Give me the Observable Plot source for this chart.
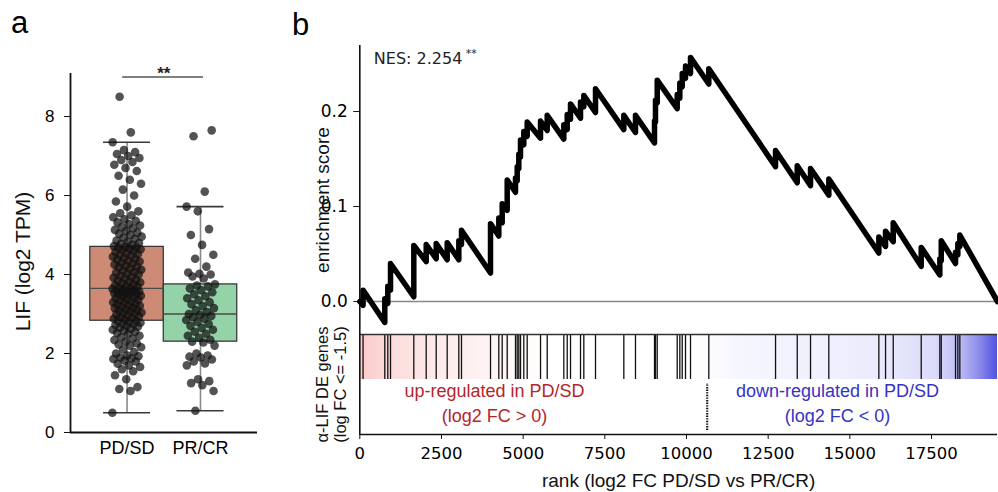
<!DOCTYPE html>
<html><head><meta charset="utf-8">
<script src="https://cdn.jsdelivr.net/npm/d3@7"></script>
<script src="https://cdn.jsdelivr.net/npm/@observablehq/plot@0.6"></script>
<style>
body{margin:0;background:#fff;}
#chart{position:relative;width:998px;height:492px;overflow:hidden;background:#fff;}
#chart > svg{position:absolute;left:0;top:0;}
</style></head><body><div id="chart"></div>
<script>
// ---------------- DATA ----------------
const categories = ["PD/SD", "PR/CR"];
const pdsdValues = [
 0.50,1.05,1.10,1.15,1.35,1.45,1.55,1.60,1.66,1.70,1.74,1.80,1.82,1.86,1.88,1.90,1.93,1.95,2.00,2.04,2.10,2.16,2.20,2.23,2.26,2.30,2.34,2.38,2.41,2.45,2.50,2.52,2.55,2.58,2.60,2.63,2.65,2.68,2.70,2.72,2.74,2.76,2.78,2.80,2.82,
 2.83,2.85,2.88,2.90,2.92,2.94,2.96,2.99,3.01,3.02,3.04,3.07,3.09,3.10,3.12,3.15,3.16,3.18,3.21,3.22,3.24,3.26,3.29,3.30,3.32,3.35,3.36,3.38,3.40,3.42,3.45,3.46,3.48,3.50,3.51,3.52,3.53,3.55,3.56,3.57,3.58,3.59,3.60,3.62,3.64,
 3.65,
 3.67,3.69,3.71,3.73,3.75,3.78,3.80,3.82,3.85,3.87,3.90,3.92,3.94,3.97,4.00,4.02,4.05,4.07,4.10,4.12,4.15,4.18,4.20,4.22,4.25,4.28,4.30,4.33,4.35,4.38,4.40,4.42,4.45,4.48,4.50,4.52,4.54,4.57,4.60,4.62,4.64,4.66,4.68,4.69,
 4.70,
 4.72,4.75,4.78,4.80,4.83,4.86,4.90,4.93,4.96,5.00,5.03,5.06,5.10,5.13,5.17,5.20,5.24,5.28,5.32,5.36,5.40,5.45,5.50,5.55,5.60,5.72,5.85,6.00,6.15,6.30,6.40,6.50,6.62,6.70,6.78,6.85,6.90,6.95,7.00,7.05,7.10,7.15,7.35,7.60,8.50
];
const prcrValues = [
 0.55,1.05,1.20,1.25,1.30,1.35,1.70,1.75,1.80,1.85,1.90,1.92,1.95,2.00,2.20,2.28,
 2.30,
 2.35,2.40,2.45,2.50,2.55,2.60,2.65,2.70,2.75,2.80,2.85,2.88,2.92,2.95,2.98,
 3.00,
 3.05,3.10,3.15,3.20,3.25,3.30,3.35,3.40,3.45,3.50,3.55,3.60,3.65,3.70,3.72,
 3.75,
 3.90,3.95,4.00,4.02,4.05,4.20,4.40,4.50,4.75,5.00,5.15,5.60,5.72,6.10,7.50,7.65
];
const sigBarValue = 9.0;
const sigLabel = "**";
const yTicksA = [0, 2, 4, 6, 8];

const nGenes = 19520;
const hitRanks = [100,765,857,940,1653,2033,2339,2675,3031,3113,4001,4255,4359,4512,4766,4818,4867,4919,5020,5124,5532,5737,6245,6349,6450,6756,6857,7215,8082,8439,9021,9051,9104,9716,9796,9869,9970,10123,10683,12726,13390,13797,14357,15888,16093,16328,17185,17755,17798,18235,18306,18367];
const esBeforeHit = [-0.004,-0.022,-0.002,0.012,0.005,0.042,0.045,0.044,0.044,0.060,0.030,0.069,0.083,0.096,0.115,0.127,0.140,0.152,0.165,0.174,0.172,0.180,0.171,0.181,0.192,0.193,0.205,0.199,0.181,0.178,0.167,0.189,0.209,0.203,0.214,0.226,0.235,0.240,0.229,0.142,0.125,0.122,0.112,0.051,0.058,0.063,0.037,0.028,0.043,0.040,0.049,0.058];
const esAfterHit = [0.012,0.003,0.016,0.040,0.059,0.060,0.061,0.062,0.064,0.075,0.082,0.088,0.103,0.128,0.130,0.142,0.155,0.170,0.179,0.189,0.190,0.196,0.186,0.197,0.208,0.210,0.217,0.224,0.196,0.196,0.190,0.212,0.233,0.218,0.230,0.240,0.248,0.257,0.245,0.159,0.143,0.140,0.129,0.068,0.074,0.083,0.057,0.045,0.064,0.052,0.061,0.070];
const esStart = 0.0, esEnd = 0.0;
const zeroCrossRank = 10634;
const esTicks = [0, 0.1, 0.2];
const rankTicks = [0, 2500, 5000, 7500, 10000, 12500, 15000, 17500];
const nesValue = 2.254;
const nesSig = "**";
const upText = ["up-regulated in PD/SD", "(log2 FC > 0)"];
const downText = ["down-regulated in PD/SD", "(log2 FC < 0)"];

// ---------------- BUILD ----------------
const SANS = "Liberation Sans, Arial, Helvetica, sans-serif";
const DJV = "DejaVu Sans, sans-serif";
const chart = document.getElementById("chart");

function boxStats(vals, i) {
  const q1 = d3.quantile(vals, 0.25), med = d3.quantile(vals, 0.5), q3 = d3.quantile(vals, 0.75);
  const iqr = q3 - q1;
  return {i, q1, med, q3,
    lo: d3.min(vals.filter(v => v >= q1 - 1.5 * iqr)),
    hi: d3.max(vals.filter(v => v <= q3 + 1.5 * iqr))};
}
const groups = [pdsdValues, prcrValues];
const stats = groups.map((g, i) => boxStats(g, i));
const jitter = k => (((k * 0.6180339887) % 1) - 0.5) * 0.4;
const points = groups.flatMap((g, i) => g.map((v, k) => ({x: i + jitter(k + i * 7), y: v})));
const boxFill = ["#cd8b76", "#94d3a8"];

const xDomA = [-0.77, 1.776];
const plotA = Plot.plot({
  width: 270, height: 492,
  marginLeft: 70, marginRight: 13, marginTop: 73, marginBottom: 60,
  x: {type: "linear", domain: xDomA},
  y: {domain: [0, 9.09]},
  color: {type: "identity"},
  style: {background: "transparent", fontFamily: SANS, overflow: "visible"},
  marks: [
    Plot.ruleX(stats, {x: "i", y1: "q3", y2: "hi", stroke: "#8a8a8a", strokeWidth: 1.6}),
    Plot.ruleX(stats, {x: "i", y1: "lo", y2: "q1", stroke: "#8a8a8a", strokeWidth: 1.6}),
    Plot.rect(stats, {x1: d => d.i - 0.5, x2: d => d.i + 0.5, y1: "q1", y2: "q3", fill: d => boxFill[d.i], stroke: "#3a3a3a", strokeWidth: 1.3}),
    Plot.ruleY(stats, {y: "med", x1: d => d.i - 0.5, x2: d => d.i + 0.5, stroke: "#4a4a4a", strokeWidth: 1.3}),
    Plot.ruleY(stats, {y: "hi", x1: d => d.i - 0.32, x2: d => d.i + 0.32, stroke: "#3a3a3a", strokeWidth: 1.6}),
    Plot.ruleY(stats, {y: "lo", x1: d => d.i - 0.32, x2: d => d.i + 0.32, stroke: "#3a3a3a", strokeWidth: 1.6}),
    Plot.dot(points, {x: "x", y: "y", r: 4.3, fill: "#111", fillOpacity: 0.72, stroke: "none"}),
    Plot.ruleX([xDomA[0]], {stroke: "#111", strokeWidth: 1.8}),
    Plot.ruleY([0], {stroke: "#111", strokeWidth: 1.8}),
    Plot.ruleY([sigBarValue], {x1: -0.06, x2: 1.04, stroke: "#555", strokeWidth: 1.6}),
    Plot.text([sigLabel], {x: 0.5, y: sigBarValue, lineAnchor: "bottom", dy: 2, fontSize: 17, fontWeight: "bold", fontFamily: SANS, fill: "#222"}),
    Plot.axisY({ticks: yTicksA, tickSize: 6, tickPadding: 10, tickFormat: d3.format("d"), label: null, fontSize: 17, fontFamily: SANS, stroke: "#111"}),
    Plot.axisX({ticks: [0, 1], tickFormat: i => categories[i], tickSize: 0, tickPadding: 9, label: null, fontSize: 18, fontFamily: SANS}),
    Plot.text(["LIF (log2 TPM)"], {x: -1.417, y: 4.33, rotate: -90, fontSize: 21, fontFamily: SANS, fill: "#111"})
  ]
});

const esPoints = [{rank: 0, es: esStart}];
hitRanks.forEach((r, k) => { esPoints.push({rank: r, es: esBeforeHit[k]}); esPoints.push({rank: r, es: esAfterHit[k]}); });
esPoints.push({rank: nGenes, es: esEnd});

const ML = 359.3, MR = 1;
const plotB1 = Plot.plot({
  width: 998, height: 492,
  marginLeft: ML, marginRight: MR, marginTop: 45, marginBottom: 158,
  x: {domain: [0, nGenes], axis: null},
  y: {domain: [-0.0347, 0.2695]},
  style: {background: "transparent", fontFamily: DJV, overflow: "visible"},
  marks: [
    Plot.ruleY([0], {stroke: "#888", strokeWidth: 1.6}),
    Plot.ruleX([0], {stroke: "#111", strokeWidth: 1.6}),
    Plot.axisY({ticks: esTicks, tickFormat: d3.format(".1f"), tickSize: 6, tickPadding: 6, label: null, fontSize: 17, fontFamily: DJV, stroke: "#111"}),
    Plot.line(esPoints, {x: "rank", y: "es", stroke: "#000", strokeWidth: 5.5, strokeLinejoin: "round", strokeLinecap: "round"}),
    Plot.text(["enrichment score"], {x: -1142, y: 0.1068, rotate: -90, fontSize: 19, fontFamily: SANS, fill: "#111"}),
    Plot.text(["NES: " + nesValue.toFixed(3)], {frameAnchor: "top-left", dx: 14, dy: 18.3, lineAnchor: "bottom", textAnchor: "start", fontSize: 16, fontFamily: DJV, fill: "#222"}),
    Plot.text([nesSig], {frameAnchor: "top-left", dx: 106, dy: 11, lineAnchor: "bottom", textAnchor: "start", fontSize: 11, fontFamily: DJV, fill: "#222"})
  ]
});

const plotB2 = Plot.plot({
  width: 998, height: 492,
  marginLeft: ML, marginRight: MR, marginTop: 334, marginBottom: 58,
  x: {domain: [0, nGenes]},
  y: {domain: [0, 1], axis: null},
  style: {background: "transparent", fontFamily: DJV, overflow: "visible"},
  marks: [
    Plot.rect([nGenes], {x1: 0, x2: d => d, y1: 0.55, y2: 1, fill: "url(#fcGradient)"}),
    Plot.ruleX(hitRanks, {y1: 0.55, y2: 1, stroke: "#111", strokeWidth: 1.3}),
    Plot.ruleX([zeroCrossRank], {y1: 0.04, y2: 0.51, stroke: "#111", strokeWidth: 2.2, strokeDasharray: "1.4,1.2"}),
    Plot.ruleY([1], {stroke: "#333", strokeWidth: 1.3}),
    Plot.ruleY([0], {stroke: "#111", strokeWidth: 1.6}),
    Plot.ruleX([0], {stroke: "#111", strokeWidth: 1.6}),
    Plot.axisX({ticks: rankTicks, tickSize: 5, tickPadding: 7.5, tickFormat: d3.format("d"), label: null, fontSize: 16.5, fontFamily: DJV, stroke: "#111"}),
    Plot.text([upText[0]], {x: 4123, y: 0.38, lineAnchor: "bottom", fontSize: 18, fontFamily: SANS, fill: "#b3262b"}),
    Plot.text([upText[1]], {x: 4123, y: 0.13, lineAnchor: "bottom", fontSize: 18, fontFamily: SANS, fill: "#b3262b"}),
    Plot.text([downText[0]], {x: 14622, y: 0.38, lineAnchor: "bottom", fontSize: 18, fontFamily: SANS, fill: "#3434c4"}),
    Plot.text([downText[1]], {x: 14622, y: 0.13, lineAnchor: "bottom", fontSize: 18, fontFamily: SANS, fill: "#3434c4"}),
    Plot.text(["rank (log2 FC PD/SD vs PR/CR)"], {frameAnchor: "bottom", dy: 52, lineAnchor: "bottom", fontSize: 19, fontFamily: SANS, fill: "#111"}),
    Plot.text(["α-LIF DE genes\n(log FC <= -1.5)"], {x: -866, y: 0.5, rotate: -90, lineHeight: 1.1, fontSize: 16.5, fontFamily: SANS, fill: "#111"})
  ]
});

// gradient for the fold-change band
const defs = d3.select(plotB2).insert("defs", ":first-child");
const grad = defs.append("linearGradient").attr("id", "fcGradient").attr("x1", 0).attr("x2", 1).attr("y1", 0).attr("y2", 0);
[[0, "#fbc9c9"], [0.05, "#fcdcdc"], [0.13, "#fdebeb"], [0.22, "#fff6f6"], [0.3, "#ffffff"], [0.52, "#ffffff"],
 [0.6, "#f6f6ff"], [0.8, "#ececfd"], [0.9, "#dcdcfa"], [0.94, "#bfbff5"], [0.97, "#8e8eec"], [1, "#5252e2"]]
  .forEach(([o, c]) => grad.append("stop").attr("offset", o).attr("stop-color", c));

const letters = d3.create("svg").attr("width", 998).attr("height", 492);
letters.append("text").attr("x", 11).attr("y", 33).attr("font-family", SANS).attr("font-size", 31).text("a");
letters.append("text").attr("x", 292).attr("y", 35).attr("font-family", SANS).attr("font-size", 31).text("b");

chart.append(plotA, plotB1, plotB2, letters.node());
</script></body></html>
